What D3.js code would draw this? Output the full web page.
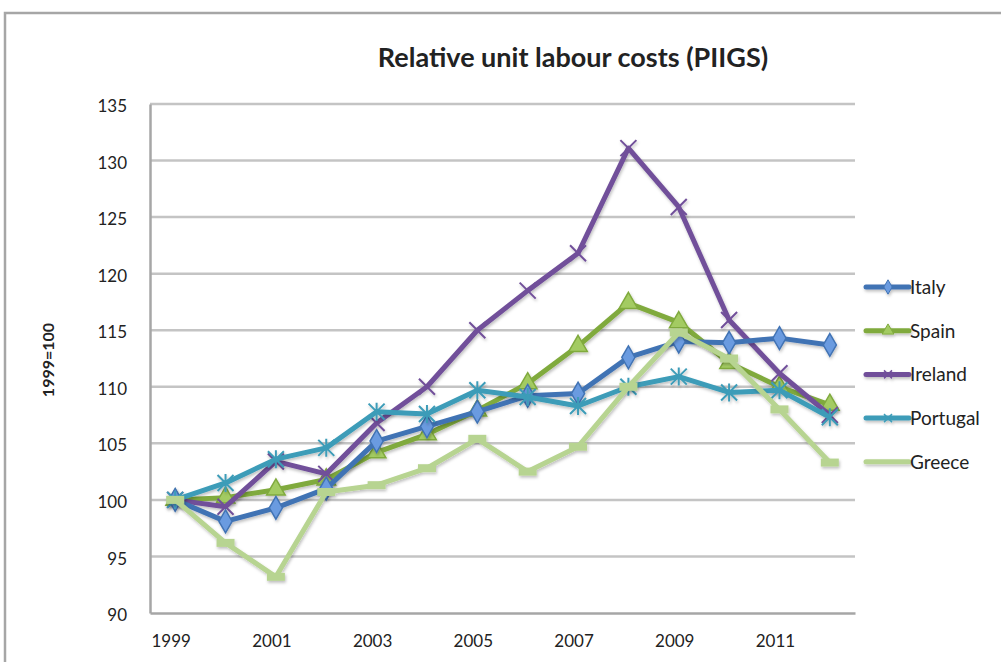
<!DOCTYPE html>
<html>
<head>
<meta charset="utf-8">
<script src="https://cdn.jsdelivr.net/npm/d3@7"></script>
<style>
  body { margin: 0; background: #fff; }
  text { font-family: Lato, "Open Sans", sans-serif; fill: #222; }
</style>
</head>
<body>
<div id="chart"></div>
<script>
// data
var years = [1999, 2000, 2001, 2002, 2003, 2004, 2005, 2006, 2007, 2008, 2009, 2010, 2011, 2012];
var tickYears = [1999, 2001, 2003, 2005, 2007, 2009, 2011];
var italy    = [100, 98.1, 99.3, 101.0, 105.2, 106.5, 107.8, 109.2, 109.4, 112.6, 114.0, 113.9, 114.3, 113.7];
var spain    = [100, 100.2, 100.9, 101.8, 104.2, 105.8, 107.9, 110.3, 113.6, 117.4, 115.7, 112.1, 110.0, 108.4];
var ireland  = [100, 99.4, 103.4, 102.3, 106.8, 110.0, 115.0, 118.5, 121.8, 131.1, 125.9, 115.9, 111.2, 107.5];
var portugal = [100, 101.5, 103.6, 104.6, 107.8, 107.6, 109.7, 109.1, 108.3, 110.0, 110.9, 109.5, 109.7, 107.3];
var greece   = [100, 96.2, 93.2, 100.7, 101.3, 102.8, 105.4, 102.5, 104.7, 110.0, 114.8, 112.5, 108.0, 103.3];

var series = [
  {name: "Italy",    values: italy,    line: "#4173b4", fill: "#6b9be0", marker: "diamond"},
  {name: "Spain",    values: spain,    line: "#80aa3e", fill: "#a3cb62", marker: "triangle"},
  {name: "Ireland",  values: ireland,  line: "#71509a", fill: "#71509a", marker: "cross"},
  {name: "Portugal", values: portugal, line: "#3c9cb8", fill: "#3c9cb8", marker: "star"},
  {name: "Greece",   values: greece,   line: "#b7d491", fill: "#b7d491", marker: "dash"}
];

var width = 1001, height = 662;
var plot = {left: 150, right: 855, top: 104, bottom: 613};

var svg = d3.select("#chart").append("svg")
    .attr("width", width)
    .attr("height", height);

var defs = svg.append("defs");
var shadow = defs.append("filter").attr("id", "shadow")
    .attr("filterUnits", "userSpaceOnUse")
    .attr("x", 0).attr("y", 0).attr("width", width).attr("height", height);
shadow.append("feDropShadow")
    .attr("dx", 1).attr("dy", 2).attr("stdDeviation", 1.5)
    .attr("flood-color", "#000").attr("flood-opacity", 0.25);

// outer frame (only top and left edges are visible)
svg.append("path")
    .attr("d", "M5," + height + "V13H" + width)
    .attr("fill", "none")
    .attr("stroke", "#a6a6a6")
    .attr("stroke-width", 2.5);

var x = d3.scaleBand()
    .domain(years)
    .range([plot.left, plot.right]);

var y = d3.scaleLinear()
    .domain([90, 135])
    .range([plot.bottom, plot.top]);

// gridlines
svg.append("g")
    .selectAll("line")
    .data(y.ticks(9).filter(function (d) { return d > 90; }))
    .enter().append("line")
    .attr("x1", plot.left)
    .attr("x2", plot.right)
    .attr("y1", function (d) { return y(d); })
    .attr("y2", function (d) { return y(d); })
    .attr("stroke", "#c4c4c4")
    .attr("stroke-width", 2.5);

// axes
var yAxis = svg.append("g")
    .attr("transform", "translate(" + plot.left + ",0)")
    .call(d3.axisLeft(y).ticks(9).tickSize(0).tickPadding(23));
yAxis.select(".domain").attr("stroke", "#a6a6a6").attr("stroke-width", 2.5);
yAxis.selectAll("text").style("font-size", "17px").attr("fill", "#222").attr("dy", "0.45em");

var xAxis = svg.append("g")
    .attr("transform", "translate(0," + plot.bottom + ")")
    .call(d3.axisBottom(x).tickValues(tickYears).tickSize(0).tickPadding(22));
xAxis.select(".domain").attr("stroke", "#a6a6a6").attr("stroke-width", 2.5);
xAxis.selectAll("text").style("font-size", "17px").attr("fill", "#222").attr("dx", -4);

// titles
svg.append("text")
    .attr("x", 573)
    .attr("y", 67)
    .attr("text-anchor", "middle")
    .style("font-size", "27px")
    .style("font-weight", "bold")
    .text("Relative unit labour costs (PIIGS)");

svg.append("text")
    .attr("transform", "translate(54,360) rotate(-90)")
    .attr("text-anchor", "middle")
    .style("font-size", "16px")
    .style("font-weight", "bold")
    .text("1999=100");

function cx(i) { return x(years[i]) + x.bandwidth() / 2; }

var line = d3.line()
    .x(function (d, i) { return cx(i); })
    .y(function (d) { return y(d); });

function drawMarker(g, s, px, py) {
  if (s.marker === "diamond") {
    g.append("path")
        .attr("d", d3.symbol(d3.symbolDiamond, 150)())
        .attr("transform", "translate(" + px + "," + py + ")")
        .attr("fill", s.fill).attr("stroke", s.line).attr("stroke-width", 1.5);
  } else if (s.marker === "triangle") {
    g.append("path")
        .attr("d", d3.symbol(d3.symbolTriangle, 150)())
        .attr("transform", "translate(" + px + "," + py + ")")
        .attr("fill", s.fill).attr("stroke", s.line).attr("stroke-width", 1.5);
  } else if (s.marker === "cross") {
    g.append("path")
        .attr("d", "M-8,-8L8,8M-8,8L8,-8")
        .attr("transform", "translate(" + px + "," + py + ")")
        .attr("stroke", s.line).attr("stroke-width", 2);
  } else if (s.marker === "star") {
    g.append("path")
        .attr("d", "M-8,-8L8,8M-8,8L8,-8M0,-9V9")
        .attr("transform", "translate(" + px + "," + py + ")")
        .attr("stroke", s.line).attr("stroke-width", 2);
  } else {
    g.append("rect")
        .attr("x", px - 9).attr("y", py - 4)
        .attr("width", 18).attr("height", 8)
        .attr("fill", s.fill);
  }
}

// series lines, drawn back to front like the reference
var order = [1, 2, 0, 3, 4];
order.forEach(function (k) {
  var s = series[k];
  var g = svg.append("g").attr("filter", "url(#shadow)");
  g.append("path")
      .datum(s.values)
      .attr("d", line)
      .attr("fill", "none")
      .attr("stroke", s.line)
      .attr("stroke-width", 5)
      .attr("stroke-linejoin", "round");
  s.values.forEach(function (v, i) {
    drawMarker(g, s, cx(i), y(v));
  });
});

// legend
var legend = svg.append("g");
series.forEach(function (s, i) {
  var ly = 287 + i * 43.7;
  var g = legend.append("g").attr("filter", "url(#shadow)");
  g.append("line")
      .attr("x1", 866).attr("x2", 909)
      .attr("y1", ly).attr("y2", ly)
      .attr("stroke", s.line)
      .attr("stroke-width", 5)
      .attr("stroke-linecap", "round");
  if (s.marker === "diamond" || s.marker === "triangle") {
    g.append("path")
        .attr("d", d3.symbol(s.marker === "diamond" ? d3.symbolDiamond : d3.symbolTriangle, 60)())
        .attr("transform", "translate(888," + ly + ")")
        .attr("fill", s.fill).attr("stroke", s.line);
  } else if (s.marker !== "dash") {
    g.append("path")
        .attr("d", "M-4,-4L4,4M-4,4L4,-4")
        .attr("transform", "translate(888," + ly + ")")
        .attr("stroke", s.line).attr("stroke-width", 1.5);
  }
  legend.append("text")
      .attr("x", 910)
      .attr("y", ly + 7)
      .style("font-size", "19px")
      .text(s.name);
});
</script>
</body>
</html>
